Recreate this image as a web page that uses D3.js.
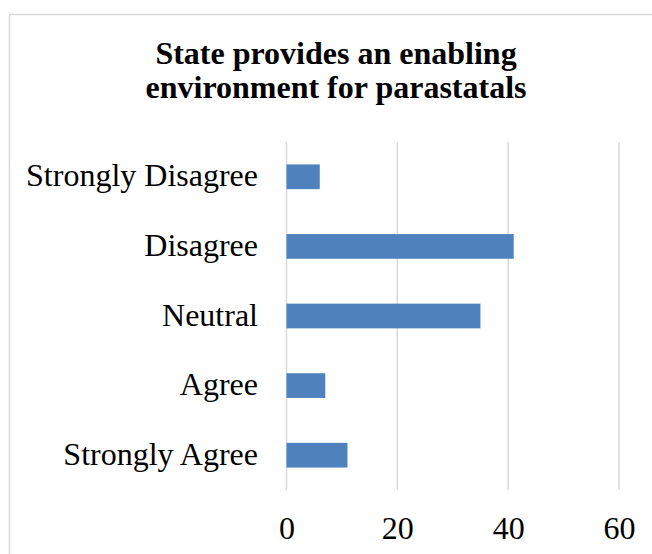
<!DOCTYPE html>
<html>
<head>
<meta charset="utf-8">
<script src="https://cdnjs.cloudflare.com/ajax/libs/d3/7.8.5/d3.min.js"></script>
<style>
  body { margin: 0; background: #fff; }
  svg { display: block; }
  svg text { font-family: "Liberation Serif", "Times New Roman", Times, Tinos, "Nimbus Roman", "DejaVu Serif", serif; }
</style>
</head>
<body>
<div id="chart"></div>
<script>
  const categories = ["Strongly Disagree", "Disagree", "Neutral", "Agree", "Strongly Agree"];
  const values = [6, 41, 35, 7, 11];
  const xTicks = [0, 20, 40, 60];
  const titleLines = ["State provides an enabling", "environment for parastatals"];

  const w = 652;
  const h = 554;
  const plotTop = 142;
  const plotBottom = 490;

  const svg = d3.select("#chart")
               .append("svg")
               .attr("width", w)
               .attr("height", h);

  // chart frame (runs off the right and bottom edge like the original)
  svg.append("rect")
     .attr("x", 9.5)
     .attr("y", 14.5)
     .attr("width", 700)
     .attr("height", 600)
     .style("fill", "#fff")
     .style("stroke", "#d9d9d9")
     .style("stroke-width", 1.5);

  svg.append("text")
     .attr("x", 336)
     .attr("y", 64)
     .attr("text-anchor", "middle")
     .style("font-size", "32px")
     .style("font-weight", "bold")
     .selectAll("tspan")
     .data(titleLines)
     .enter()
     .append("tspan")
     .attr("x", 336)
     .attr("dy", (d, i) => i === 0 ? 0 : 34)
     .text(d => d);

  const xScale = d3.scaleLinear()
                   .domain([0, 60])
                   .range([286.5, 619]);
  const yScale = d3.scaleBand()
                   .domain(categories)
                   .range([plotTop, plotBottom])
                   .paddingInner(0.645)
                   .paddingOuter(0.3225);

  // vertical gridlines
  svg.append("g")
     .selectAll("line")
     .data(xTicks)
     .enter()
     .append("line")
     .attr("x1", d => xScale(d))
     .attr("x2", d => xScale(d))
     .attr("y1", plotTop)
     .attr("y2", plotBottom)
     .style("stroke", "#d9d9d9")
     .style("stroke-width", 1.5);

  svg.selectAll("rect.bar")
     .data(categories)
     .enter()
     .append("rect")
     .attr("class", "bar")
     .attr("x", xScale(0))
     .attr("y", d => yScale(d))
     .attr("width", (d, i) => xScale(values[i]) - xScale(0))
     .attr("height", yScale.bandwidth())
     .style("fill", "#4f81bd");

  const xAxis = d3.axisBottom(xScale)
                  .tickValues(xTicks)
                  .tickSize(0)
                  .tickPadding(0);
  const gx = svg.append("g")
                .attr("transform", "translate(0,539)")
                .attr("font-family", null)
                .call(xAxis);
  gx.attr("font-family", null);
  gx.select(".domain").remove();
  gx.selectAll("text")
    .attr("y", 0)
    .attr("dy", 0)
    .style("font-size", "32px")
    .style("fill", "#000");

  const yAxis = d3.axisLeft(yScale)
                  .tickSize(0)
                  .tickPadding(0);
  const gy = svg.append("g")
                .attr("transform", "translate(258,0)")
                .call(yAxis);
  gy.attr("font-family", null);
  gy.select(".domain").remove();
  gy.selectAll("text")
    .attr("x", 0)
    .attr("dy", "0.3em")
    .style("font-size", "32px")
    .style("fill", "#000");
</script>
</body>
</html>
